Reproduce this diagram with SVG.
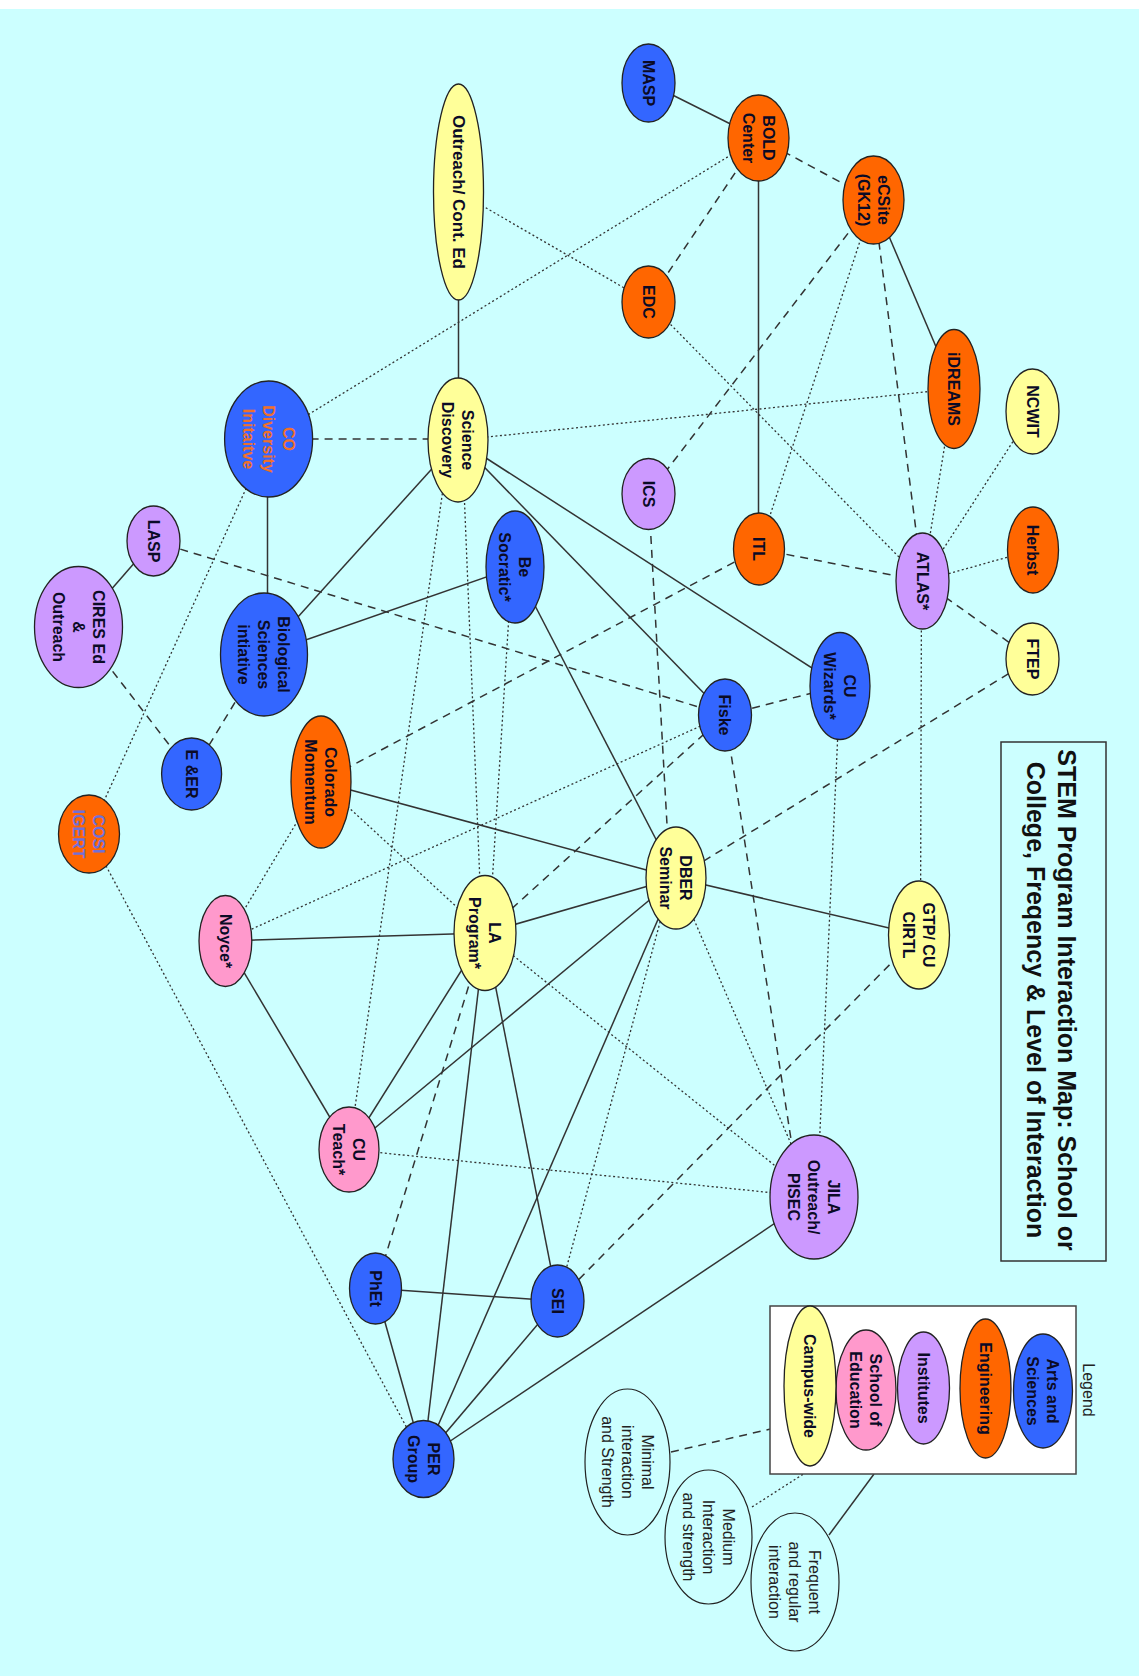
<svg xmlns="http://www.w3.org/2000/svg" width="1142" height="1676" viewBox="0 0 1142 1676">
<style>
.bg{fill:#CCFFFF}
.n{stroke:#222;stroke-width:1.3}
.blue{fill:#3366FF}.orange{fill:#FF6600}.yellow{fill:#FFFF99}.purple{fill:#CC99FF}.pink{fill:#FF99CC}
.open{fill:none;stroke:#222;stroke-width:1.2}
.t{font-family:"Liberation Sans",Arial,sans-serif;font-weight:bold;font-size:16px;text-anchor:middle;fill:#0b0b26}
.tn{font-family:"Liberation Sans",Arial,sans-serif;font-size:16px;text-anchor:middle;fill:#222}
.title{font-family:"Liberation Sans",Arial,sans-serif;font-weight:bold;font-size:25px;text-anchor:middle;fill:#111}
.s{stroke:#333;stroke-width:1.5;fill:none}
.d{stroke:#333;stroke-width:1.5;fill:none;stroke-dasharray:8 6}
.o{stroke:#333;stroke-width:1.3;fill:none;stroke-dasharray:2 2.5}
.box{fill:none;stroke:#333;stroke-width:1.5}
</style>
<rect x="0" y="0" width="1142" height="1676" fill="#ffffff"/>
<rect class="bg" x="0" y="9" width="1139" height="1667"/>

<g id="connectors">
<!-- solid -->
<line class="s" x1="648.5" y1="83" x2="758.5" y2="138"/>
<line class="s" x1="758.5" y1="138" x2="758.5" y2="549"/>
<line class="s" x1="458.5" y1="192" x2="458.5" y2="440"/>
<line class="s" x1="873.5" y1="200" x2="954" y2="389"/>
<line class="s" x1="267.5" y1="439" x2="267.5" y2="654"/>
<line class="s" x1="153.5" y1="541" x2="78.5" y2="627"/>
<line class="s" x1="264" y1="654.5" x2="458" y2="440"/>
<line class="s" x1="264" y1="654.5" x2="515" y2="567"/>
<line class="s" x1="458" y1="440" x2="840" y2="686"/>
<line class="s" x1="458" y1="440" x2="725" y2="715"/>
<line class="s" x1="515" y1="567" x2="676" y2="878"/>
<line class="s" x1="676" y1="878" x2="919" y2="935"/>
<line class="s" x1="321" y1="782" x2="676" y2="878"/>
<line class="s" x1="225.4" y1="941" x2="485" y2="933"/>
<line class="s" x1="225.4" y1="941" x2="349" y2="1149.5"/>
<line class="s" x1="485" y1="933" x2="676" y2="878"/>
<line class="s" x1="485" y1="933" x2="349" y2="1149.5"/>
<line class="s" x1="676" y1="878" x2="349" y2="1149.5"/>
<line class="s" x1="485" y1="933" x2="423.5" y2="1459"/>
<line class="s" x1="485" y1="933" x2="557.5" y2="1301"/>
<line class="s" x1="676" y1="878" x2="423.5" y2="1459"/>
<line class="s" x1="375.5" y1="1288.5" x2="557.5" y2="1301"/>
<line class="s" x1="375.5" y1="1288.5" x2="423.5" y2="1459"/>
<line class="s" x1="557.5" y1="1301" x2="423.5" y2="1459"/>
<line class="s" x1="814" y1="1197" x2="423.5" y2="1459"/>
<!-- dashed -->
<line class="d" x1="758.5" y1="138" x2="873.5" y2="200"/>
<line class="d" x1="758.5" y1="138" x2="648.5" y2="302"/>
<line class="d" x1="873.5" y1="200" x2="648.5" y2="494"/>
<line class="d" x1="873.5" y1="200" x2="922.5" y2="581"/>
<line class="d" x1="759" y1="549" x2="922.5" y2="581"/>
<line class="d" x1="922.5" y1="581" x2="1032.5" y2="659"/>
<line class="d" x1="268.6" y1="439" x2="458" y2="439"/>
<line class="d" x1="153.5" y1="541" x2="725" y2="715"/>
<line class="d" x1="78.5" y1="627" x2="191.6" y2="774"/>
<line class="d" x1="264" y1="654.5" x2="191.6" y2="774"/>
<line class="d" x1="648.5" y1="494" x2="670" y2="878"/>
<line class="d" x1="759" y1="549" x2="321" y2="782"/>
<line class="d" x1="725" y1="715" x2="840" y2="686"/>
<line class="d" x1="725" y1="715" x2="485" y2="933"/>
<line class="d" x1="725" y1="715" x2="800" y2="1197"/>
<line class="d" x1="1032.5" y1="659" x2="676" y2="878"/>
<line class="d" x1="485" y1="933" x2="375.5" y2="1288.5"/>
<line class="d" x1="919" y1="935" x2="557.5" y2="1301"/>
<!-- dotted -->
<line class="o" x1="758.5" y1="138" x2="268.6" y2="439"/>
<line class="o" x1="458.5" y1="192" x2="648.5" y2="302"/>
<line class="o" x1="873.5" y1="200" x2="759" y2="549"/>
<line class="o" x1="648.5" y1="302" x2="922.5" y2="581"/>
<line class="o" x1="954" y1="389" x2="458" y2="440"/>
<line class="o" x1="954" y1="389" x2="922.5" y2="581"/>
<line class="o" x1="1032.5" y1="411.5" x2="922.5" y2="581"/>
<line class="o" x1="1033" y1="550" x2="922.5" y2="581"/>
<line class="o" x1="921.5" y1="581" x2="920.5" y2="935"/>
<line class="o" x1="268.6" y1="439" x2="89" y2="834"/>
<line class="o" x1="462" y1="440" x2="482" y2="933"/>
<line class="o" x1="450" y1="440" x2="349" y2="1149.5"/>
<line class="o" x1="512" y1="567" x2="489" y2="933"/>
<line class="o" x1="725" y1="715" x2="225.4" y2="941"/>
<line class="o" x1="840" y1="686" x2="817" y2="1197"/>
<line class="o" x1="321" y1="782" x2="225.4" y2="941"/>
<line class="o" x1="321" y1="782" x2="485" y2="933"/>
<line class="o" x1="485" y1="933" x2="814" y2="1197"/>
<line class="o" x1="676" y1="878" x2="814" y2="1197"/>
<line class="o" x1="672" y1="878" x2="557.5" y2="1301"/>
<line class="o" x1="349" y1="1149.5" x2="814" y2="1197"/>
<line class="o" x1="89" y1="834" x2="423.5" y2="1459"/>
<!-- legend connectors -->
<line class="d" x1="671" y1="1452" x2="770.5" y2="1429"/>
<line class="o" x1="752" y1="1507" x2="805" y2="1473"/>
<line class="s" x1="829" y1="1535" x2="874" y2="1474"/>
</g>

<g id="title">
<rect class="box" x="1001" y="742" width="105" height="519"/>
<text class="title" transform="translate(1053.5,1000) rotate(90)"><tspan x="0" y="-4.8">STEM Program Interaction Map: School or</tspan><tspan x="0" y="26.2">College, Freqency &amp; Level of Interaction</tspan></text>
</g>

<g id="node-masp"><ellipse class="n blue" cx="648.5" cy="83" rx="26.5" ry="39"/><text class="t" transform="translate(648.5,83) rotate(90)"><tspan x="0" y="5.6">MASP</tspan></text></g>
<g id="node-bold"><ellipse class="n orange" cx="758.5" cy="138" rx="30.5" ry="43"/><text class="t" transform="translate(758.5,138) rotate(90)"><tspan x="0" y="-4.4">BOLD</tspan><tspan x="0" y="15.6">Center</tspan></text></g>
<g id="node-ecsite"><ellipse class="n orange" cx="873.5" cy="200" rx="30.5" ry="44"/><text class="t" transform="translate(873.5,200) rotate(90)"><tspan x="0" y="-4.4">eCSite</tspan><tspan x="0" y="15.6">(GK12)</tspan></text></g>
<g id="node-outreach"><ellipse class="n yellow" cx="458.5" cy="192" rx="25" ry="108"/><text class="t" style="font-size:17px" transform="translate(458.5,192) rotate(90)"><tspan x="0" y="6">Outreach/ Cont. Ed</tspan></text></g>
<g id="node-edc"><ellipse class="n orange" cx="648.5" cy="302" rx="26.5" ry="36"/><text class="t" transform="translate(648.5,302) rotate(90)"><tspan x="0" y="5.6">EDC</tspan></text></g>
<g id="node-idreams"><ellipse class="n orange" cx="954" cy="389" rx="26" ry="59.5"/><text class="t" transform="translate(954,389) rotate(90)"><tspan x="0" y="5.6">iDREAMS</tspan></text></g>
<g id="node-ncwit"><ellipse class="n yellow" cx="1032.5" cy="411.5" rx="26.5" ry="42.5"/><text class="t" transform="translate(1032.5,411.5) rotate(90)"><tspan x="0" y="5.6">NCWIT</tspan></text></g>
<g id="node-scidisc"><ellipse class="n yellow" cx="458" cy="440" rx="30" ry="62"/><text class="t" transform="translate(458,440) rotate(90)"><tspan x="0" y="-4.4">Science</tspan><tspan x="0" y="15.6">Discovery</tspan></text></g>
<g id="node-codiv"><ellipse class="n blue" cx="268.6" cy="439" rx="44" ry="58"/><text class="t" style="fill:#F0702A" transform="translate(268.6,439) rotate(90)"><tspan x="0" y="-14.4">CO</tspan><tspan x="0" y="5.6">Diversity</tspan><tspan x="0" y="25.6">Initaitve</tspan></text></g>
<g id="node-ics"><ellipse class="n purple" cx="648.5" cy="494" rx="26.5" ry="35.5"/><text class="t" transform="translate(648.5,494) rotate(90)"><tspan x="0" y="5.6">ICS</tspan></text></g>
<g id="node-itl"><ellipse class="n orange" cx="759" cy="549" rx="25.5" ry="36"/><text class="t" transform="translate(759,549) rotate(90)"><tspan x="0" y="5.6">ITL</tspan></text></g>
<g id="node-herbst"><ellipse class="n orange" cx="1033" cy="550" rx="25.5" ry="43"/><text class="t" transform="translate(1033,550) rotate(90)"><tspan x="0" y="5.6">Herbst</tspan></text></g>
<g id="node-atlas"><ellipse class="n purple" cx="922.5" cy="581" rx="26.5" ry="48"/><text class="t" transform="translate(922.5,581) rotate(90)"><tspan x="0" y="5.6">ATLAS*</tspan></text></g>
<g id="node-lasp"><ellipse class="n purple" cx="153.5" cy="541" rx="26.5" ry="35"/><text class="t" transform="translate(153.5,541) rotate(90)"><tspan x="0" y="5.6">LASP</tspan></text></g>
<g id="node-besocratic"><ellipse class="n blue" cx="515" cy="567" rx="29" ry="56"/><text class="t" transform="translate(515,567) rotate(90)"><tspan x="0" y="-4.4">Be</tspan><tspan x="0" y="15.6">Socratic*</tspan></text></g>
<g id="node-cires"><ellipse class="n purple" cx="78.5" cy="627" rx="44" ry="60.5"/><text class="t" transform="translate(78.5,627) rotate(90)"><tspan x="0" y="-14.4">CIRES Ed</tspan><tspan x="0" y="5.6">&amp;</tspan><tspan x="0" y="25.6">Outreach</tspan></text></g>
<g id="node-biosci"><ellipse class="n blue" cx="264" cy="654.5" rx="43.5" ry="61.5"/><text class="t" transform="translate(264,654.5) rotate(90)"><tspan x="0" y="-14.4">Biological</tspan><tspan x="0" y="5.6">Sciences</tspan><tspan x="0" y="25.6">intiative</tspan></text></g>
<g id="node-ftep"><ellipse class="n yellow" cx="1032.5" cy="659" rx="26.5" ry="36"/><text class="t" transform="translate(1032.5,659) rotate(90)"><tspan x="0" y="5.6">FTEP</tspan></text></g>
<g id="node-cuwizards"><ellipse class="n blue" cx="840" cy="686" rx="30" ry="53.5"/><text class="t" transform="translate(840,686) rotate(90)"><tspan x="0" y="-4.4">CU</tspan><tspan x="0" y="15.6">Wizards*</tspan></text></g>
<g id="node-fiske"><ellipse class="n blue" cx="725" cy="715" rx="26.5" ry="36"/><text class="t" transform="translate(725,715) rotate(90)"><tspan x="0" y="5.6">Fiske</tspan></text></g>
<g id="node-eer"><ellipse class="n blue" cx="191.6" cy="774" rx="30" ry="36"/><text class="t" transform="translate(191.6,774) rotate(90)"><tspan x="0" y="5.6">E &amp;ER</tspan></text></g>
<g id="node-colmom"><ellipse class="n orange" cx="321" cy="782" rx="30" ry="66"/><text class="t" transform="translate(321,782) rotate(90)"><tspan x="0" y="-4.4">Colorado</tspan><tspan x="0" y="15.6">Momentum</tspan></text></g>
<g id="node-cosi"><ellipse class="n orange" cx="89" cy="834" rx="30.5" ry="39"/><text class="t" style="fill:#7070D8" transform="translate(89,834) rotate(90)"><tspan x="0" y="-4.4">COSI</tspan><tspan x="0" y="15.6">IGERT</tspan></text></g>
<g id="node-dber"><ellipse class="n yellow" cx="676" cy="878" rx="30" ry="51"/><text class="t" transform="translate(676,878) rotate(90)"><tspan x="0" y="-4.4">DBER</tspan><tspan x="0" y="15.6">Seminar</tspan></text></g>
<g id="node-gtp"><ellipse class="n yellow" cx="919" cy="935" rx="30.5" ry="54"/><text class="t" transform="translate(919,935) rotate(90)"><tspan x="0" y="-4.4">GTP/ CU</tspan><tspan x="0" y="15.6">CIRTL</tspan></text></g>
<g id="node-noyce"><ellipse class="n pink" cx="225.4" cy="941" rx="26.4" ry="45.5"/><text class="t" transform="translate(225.4,941) rotate(90)"><tspan x="0" y="5.6">Noyce*</tspan></text></g>
<g id="node-la"><ellipse class="n yellow" cx="485" cy="933" rx="31" ry="57.5"/><text class="t" transform="translate(485,933) rotate(90)"><tspan x="0" y="-4.4">LA</tspan><tspan x="0" y="15.6">Program*</tspan></text></g>
<g id="node-cuteach"><ellipse class="n pink" cx="349" cy="1149.5" rx="30" ry="42.5"/><text class="t" transform="translate(349,1149.5) rotate(90)"><tspan x="0" y="-4.4">CU</tspan><tspan x="0" y="15.6">Teach*</tspan></text></g>
<g id="node-jila"><ellipse class="n purple" cx="814" cy="1197" rx="44" ry="62"/><text class="t" transform="translate(814,1197) rotate(90)"><tspan x="0" y="-14.4">JILA</tspan><tspan x="0" y="5.6">Outreach/</tspan><tspan x="0" y="25.6">PISEC</tspan></text></g>
<g id="node-phet"><ellipse class="n blue" cx="375.5" cy="1288.5" rx="26" ry="35.5"/><text class="t" transform="translate(375.5,1288.5) rotate(90)"><tspan x="0" y="5.6">PhEt</tspan></text></g>
<g id="node-sei"><ellipse class="n blue" cx="557.5" cy="1301" rx="26.5" ry="36"/><text class="t" transform="translate(557.5,1301) rotate(90)"><tspan x="0" y="5.6">SEI</tspan></text></g>
<g id="node-per"><ellipse class="n blue" cx="423.5" cy="1459" rx="30.5" ry="38.5"/><text class="t" transform="translate(423.5,1459) rotate(90)"><tspan x="0" y="-4.4">PER</tspan><tspan x="0" y="15.6">Group</tspan></text></g>

<g id="legend">
<rect x="770" y="1306" width="306" height="168" fill="#ffffff" stroke="#444" stroke-width="1.5"/>
<text class="tn" transform="translate(1089,1390) rotate(90)"><tspan x="0" y="5.6">Legend</tspan></text>
<g id="legend-arts"><ellipse class="n blue" cx="1043" cy="1391" rx="29.5" ry="57"/><text class="t" transform="translate(1043,1391) rotate(90)"><tspan x="0" y="-4.4">Arts and</tspan><tspan x="0" y="15.6">Sciences</tspan></text></g>
<g id="legend-eng"><ellipse class="n orange" cx="985.5" cy="1388.5" rx="25.5" ry="69.5"/><text class="t" transform="translate(985.5,1388.5) rotate(90)"><tspan x="0" y="5.6">Engineering</tspan></text></g>
<g id="legend-inst"><ellipse class="n purple" cx="923.5" cy="1388" rx="26" ry="56"/><text class="t" transform="translate(923.5,1388) rotate(90)"><tspan x="0" y="5.6">Institutes</tspan></text></g>
<g id="legend-soe"><ellipse class="n pink" cx="866" cy="1390" rx="30" ry="60"/><text class="t" transform="translate(866,1390) rotate(90)"><tspan x="0" y="-4.4">School of</tspan><tspan x="0" y="15.6">Education</tspan></text></g>
<g id="legend-campus"><ellipse class="n yellow" cx="810" cy="1386" rx="26" ry="80"/><text class="t" transform="translate(810,1386) rotate(90)"><tspan x="0" y="5.6">Campus-wide</tspan></text></g>
<g id="legend-minimal"><ellipse class="open" cx="627.5" cy="1462" rx="42.5" ry="73"/><text class="tn" transform="translate(627.5,1462) rotate(90)"><tspan x="0" y="-14.4">Minimal</tspan><tspan x="0" y="5.6">interaction</tspan><tspan x="0" y="25.6">and Strength</tspan></text></g>
<g id="legend-medium"><ellipse class="open" cx="708.5" cy="1537" rx="43.5" ry="67"/><text class="tn" transform="translate(708.5,1537) rotate(90)"><tspan x="0" y="-14.4">Medium</tspan><tspan x="0" y="5.6">Interaction</tspan><tspan x="0" y="25.6">and strength</tspan></text></g>
<g id="legend-frequent"><ellipse class="open" cx="795" cy="1582" rx="44" ry="69"/><text class="tn" transform="translate(795,1582) rotate(90)"><tspan x="0" y="-14.4">Frequent</tspan><tspan x="0" y="5.6">and regular</tspan><tspan x="0" y="25.6">interaction</tspan></text></g>
</g>
</svg>
